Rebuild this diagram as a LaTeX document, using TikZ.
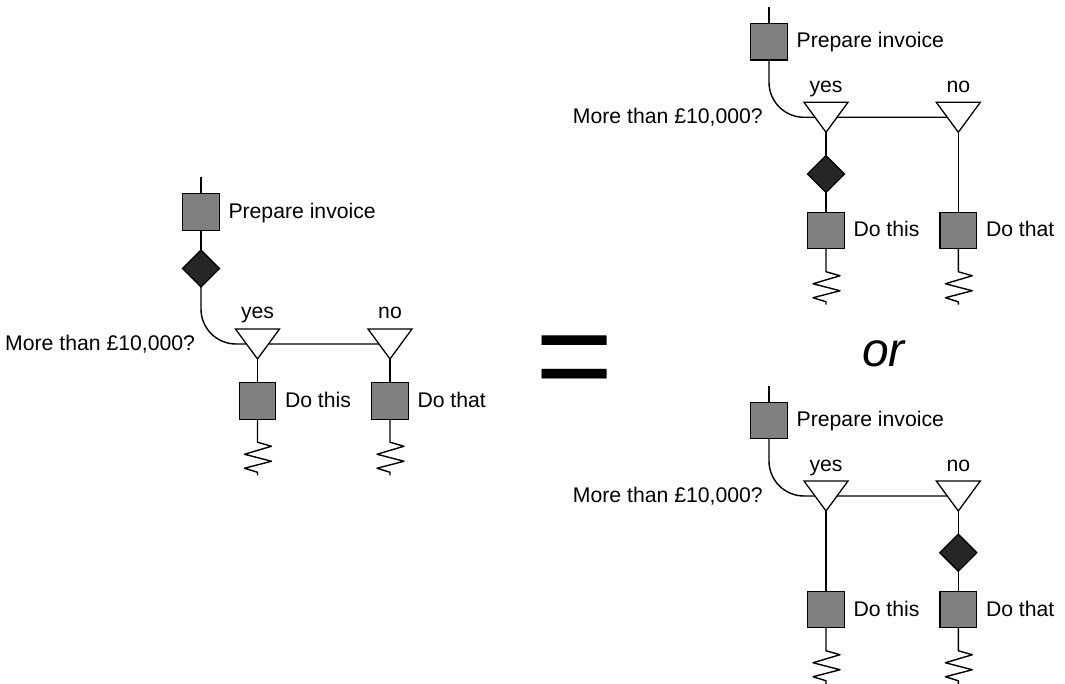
\documentclass[tikz,border=0pt]{standalone}
\usepackage{fontspec}
\setmainfont{Liberation Sans}
\usetikzlibrary{shapes.geometric}
\begin{document}
\begin{tikzpicture}[x=1pt,y=-1pt,
  every node/.style={inner sep=0pt, outer sep=0pt},
  wire/.style={line width=1.4pt, line join=round},
  task/.style={rectangle, draw, line width=1.3pt, fill=black!50, minimum size=36.5pt},
  gate/.style={diamond, draw, line width=1.3pt, fill=black!85, minimum width=37pt, minimum height=37pt},
  split/.style={rectangle, minimum width=44pt, minimum height=30pt},
  splitmark/.style={line width=1.3pt, line join=miter, fill=white},
  lbl/.style={font=\fontsize{21.2}{25}\selectfont},
  spring/.pic={\draw[wire] (0,0) -- (0,23) -- (14,27) -- (-13,35) -- (14,42) -- (-13,49) -- (0,53) -- (0,56);}
]
\useasboundingbox (0,0) rectangle (1065,684);

% ---------- single process with the approval gate before the split ----------
\coordinate (topA) at (201,177);
\node[task] (prepA) at (201,212) {};
\node[gate] (gateA) at (201,268.5) {};
\node[split] (yesA) at (257.5,344) {};
\node[split] (noA) at (390,344) {};
\node[task] (thisA) at (257.5,401) {};
\node[task] (thatA) at (390,401) {};

\draw[wire] (topA) -- (prepA.north);
\draw[wire] (prepA) -- (gateA);
\draw[wire, rounded corners=35pt] (gateA.south) |- (noA.center);
\draw[wire] (yesA.south) -- (thisA.north);
\draw[wire] (noA.south) -- (thatA.north);
\draw[splitmark] (yesA.north west) -- (yesA.north east) -- (yesA.south) -- cycle;
\draw[splitmark] (noA.north west) -- (noA.north east) -- (noA.south) -- cycle;
\pic at (thisA.south) {spring};
\pic at (thatA.south) {spring};

\node[lbl, anchor=base west] (prepAl) at (228.5,218.3) {Prepare invoice};
\node[lbl, anchor=base east] (askA) at (195,350.3) {More than £10,000?};
\node[lbl, anchor=base] (yesAl) at (257.5,319) {yes};
\node[lbl, anchor=base] (noAl) at (390,319) {no};
\node[lbl, anchor=base west] (thisAl) at (285,407.3) {Do this};
\node[lbl, anchor=base west] (thatAl) at (417.5,407.3) {Do that};

% ---------- equals sign and "or" ----------
\node[font=\fontsize{134}{140}\selectfont] (eq) at (575,368.4) {=};
\node[font=\fontsize{48}{52}\selectfont\itshape, anchor=base west] (orl) at (862,366.7) {or};

% ---------- gate on the "yes" branch ----------
\coordinate (topB) at (769,7);
\node[task] (prepB) at (769,41.7) {};
\node[split] (yesB) at (826,117.3) {};
\node[split] (noB) at (958.3,117.3) {};
\node[gate] (gateB) at (826,174) {};
\node[task] (thisB) at (826,230.5) {};
\node[task] (thatB) at (958.3,230.5) {};

\draw[wire] (topB) -- (prepB.north);
\draw[wire, rounded corners=35pt] (prepB.south) |- (noB.center);
\draw[wire] (yesB.south) -- (gateB);
\draw[wire] (gateB) -- (thisB);
\draw[wire] (noB.south) -- (thatB.north);
\draw[splitmark] (yesB.north west) -- (yesB.north east) -- (yesB.south) -- cycle;
\draw[splitmark] (noB.north west) -- (noB.north east) -- (noB.south) -- cycle;
\pic at (thisB.south) {spring};
\pic at (thatB.south) {spring};

\node[lbl, anchor=base west] (prepBl) at (796.7,48) {Prepare invoice};
\node[lbl, anchor=base east] (askB) at (762.7,123.5) {More than £10,000?};
\node[lbl, anchor=base] (yesBl) at (826,92.3) {yes};
\node[lbl, anchor=base] (noBl) at (958.3,92.3) {no};
\node[lbl, anchor=base west] (thisBl) at (853.5,237) {Do this};
\node[lbl, anchor=base west] (thatBl) at (986,237) {Do that};

% ---------- gate on the "no" branch ----------
\coordinate (topC) at (769,386);
\node[task] (prepC) at (769,420.5) {};
\node[split] (yesC) at (826,496) {};
\node[split] (noC) at (958.3,496) {};
\node[gate] (gateC) at (958.3,552.7) {};
\node[task] (thisC) at (826,609.5) {};
\node[task] (thatC) at (958.3,609.5) {};

\draw[wire] (topC) -- (prepC.north);
\draw[wire, rounded corners=35pt] (prepC.south) |- (noC.center);
\draw[wire] (yesC.south) -- (thisC.north);
\draw[wire] (noC.south) -- (gateC);
\draw[wire] (gateC) -- (thatC);
\draw[splitmark] (yesC.north west) -- (yesC.north east) -- (yesC.south) -- cycle;
\draw[splitmark] (noC.north west) -- (noC.north east) -- (noC.south) -- cycle;
\pic at (thisC.south) {spring};
\pic at (thatC.south) {spring};

\node[lbl, anchor=base west] (prepCl) at (796.7,426.8) {Prepare invoice};
\node[lbl, anchor=base east] (askC) at (762.7,502.3) {More than £10,000?};
\node[lbl, anchor=base] (yesCl) at (826,471) {yes};
\node[lbl, anchor=base] (noCl) at (958.3,471) {no};
\node[lbl, anchor=base west] (thisCl) at (853.5,616) {Do this};
\node[lbl, anchor=base west] (thatCl) at (986,616) {Do that};
\end{tikzpicture}
\end{document}
